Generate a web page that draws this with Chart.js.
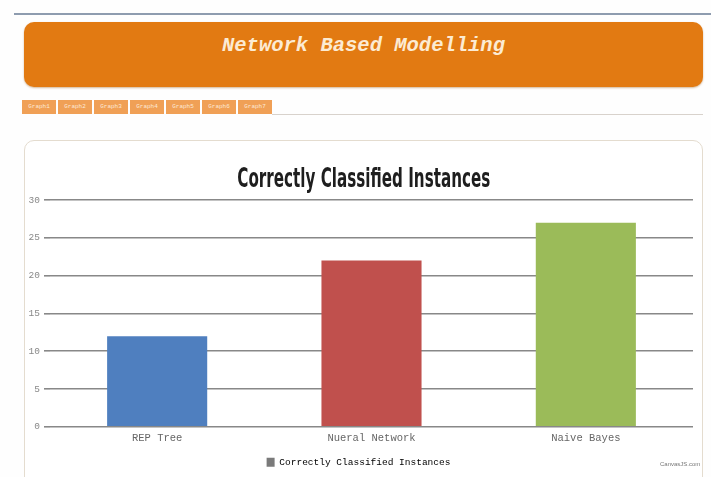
<!DOCTYPE html>
<html>
<head>
<meta charset="utf-8">
<script src="https://cdn.jsdelivr.net/npm/chart.js@4.4.1/dist/chart.umd.min.js"></script>
<style>
  html, body { margin: 0; padding: 0; background: #fefefe; width: 711px; height: 477px; overflow: hidden; }
  #topline { position: absolute; left: 14px; top: 13px; width: 697px; height: 2px; background: #8e9caf; }
  #banner { position: absolute; left: 24px; top: 22px; width: 679px; height: 65px; background: #e27a12; border-radius: 10px;
            box-shadow: 0 1px 2px rgba(150,80,0,0.4); }
  #banner h1 { margin: 0; position: absolute; top: 12px; left: 0; width: 100%; text-align: center;
               font: italic bold 20.5px "Liberation Mono", "DejaVu Sans Mono", monospace; color: #fcebd3; }
  #nav { position: absolute; left: 22px; top: 100px; height: 14px; display: flex; }
  #nav span { display: block; width: 34px; height: 14px; margin-right: 2px; background: #f0a056;
              font: 6px "Liberation Mono", monospace; color: #fde9d6; text-align: center; line-height: 14px; }
  #navline { position: absolute; left: 272px; top: 114px; width: 431px; height: 1px; background: #d8d2cc; }
  #card { position: absolute; left: 24px; top: 140px; width: 677px; height: 360px; border: 1px solid #e4dccf;
          border-radius: 10px; background: #fff; }
  #wrap { position: absolute; left: 24px; top: 148px; width: 679px; height: 329px; }
  #ctitle { position: absolute; left: 24px; top: 163px; width: 679px; margin: 0; text-align: center; white-space: nowrap;
            font: bold 26px "DejaVu Sans", sans-serif; color: #1e1e1e; line-height: 30px; }
  #ctitle span { display: inline-block; transform-origin: 50% 50%; }
  #credit { position: absolute; left: 660px; top: 461px; font: 6px "Liberation Sans", sans-serif; color: #777; }
</style>
</head>
<body>
<div id="topline"></div>
<div id="banner"><h1>Network Based Modelling</h1></div>
<div id="nav"></div>
<div id="navline"></div>
<div id="card"></div>
<div id="wrap"><canvas id="c"></canvas></div>
<div id="ctitle"><span id="ctitleText"></span></div>
<div id="credit">CanvasJS.com</div>
<script>
const navLabels = ["Graph1", "Graph2", "Graph3", "Graph4", "Graph5", "Graph6", "Graph7"];
const chartTitle = "Correctly Classified Instances";
const seriesName = "Correctly Classified Instances";
const categories = ["REP Tree", "Nueral Network", "Naive Bayes"];
const values = [12, 22, 27];
const barColors = ["#4f7fbf", "#c0504d", "#9bbb59"];
const yTicks = [0, 5, 10, 15, 20, 25, 30];

const nav = document.getElementById('nav');
navLabels.forEach(t => { const s = document.createElement('span'); s.textContent = t; nav.appendChild(s); });

// condensed heavy title (Impact-like look) as real HTML text
const tEl = document.getElementById('ctitleText');
tEl.textContent = chartTitle;
const natural = tEl.getBoundingClientRect().width;
tEl.style.transform = 'scaleX(' + (253 / natural) + ')';

const canvas = document.getElementById('c');
canvas.width = 679; canvas.height = 329;
canvas.style.width = '679px'; canvas.style.height = '329px';

new Chart(canvas, {
  type: 'bar',
  data: {
    labels: categories,
    datasets: [{
      label: seriesName,
      data: values,
      backgroundColor: barColors,
      borderWidth: 0,
      barPercentage: 0.467,
      categoryPercentage: 1.0
    }]
  },
  options: {
    responsive: false,
    animation: false,
    devicePixelRatio: 1,
    layout: { padding: { left: 0, right: 10, top: 52, bottom: 0 } },
    plugins: {
      title: { display: false },
      legend: {
        display: true,
        position: 'bottom',
        labels: {
          boxWidth: 8, boxHeight: 9, padding: 8,
          color: '#555',
          font: { family: '"Liberation Mono", monospace', size: 9.5 },
          generateLabels: (chart) => [{
            text: seriesName, fillStyle: '#7a7a7a', strokeStyle: '#7a7a7a', lineWidth: 0, hidden: false, datasetIndex: 0
          }]
        }
      },
      tooltip: { enabled: false }
    },
    scales: {
      x: {
        grid: { display: false, drawTicks: false },
        border: { display: false },
        ticks: { color: '#666', padding: 5, font: { family: '"Liberation Mono", monospace', size: 10.5 } }
      },
      y: {
        min: 0, max: 30,
        afterFit: (s) => { s.width = 26; },
        afterBuildTicks: (s) => { s.ticks = yTicks.map(v => ({ value: v })); },
        grid: { color: '#888', lineWidth: 1.6, tickLength: 6, tickColor: '#888' },
        border: { display: false },
        ticks: { color: '#888', padding: 4, font: { family: '"Liberation Mono", monospace', size: 9.5 } }
      }
    }
  }
});
</script>
</body>
</html>
